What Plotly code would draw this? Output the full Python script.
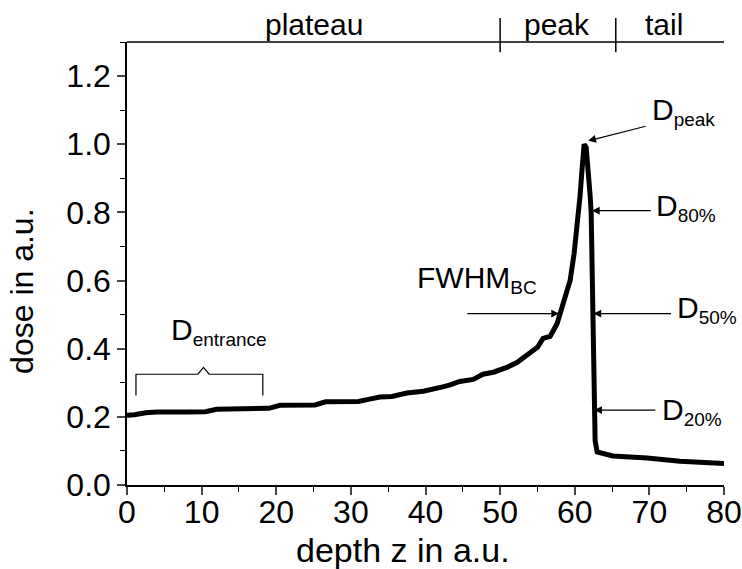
import plotly.graph_objects as go

depth = [0, 1.0, 2.5, 4, 8, 10.5, 12.0, 17, 19.0, 20.5, 25.2, 26.6, 31.0, 32.5, 33.9, 35.5, 37.5, 39.7, 41.0,
         42.3, 43.2, 44.6, 46.4, 47.7, 49.1, 50.9, 52.3, 53.6, 55.0, 55.76, 56.7, 57.64, 58.04, 58.71, 59.38,
         59.92, 60.32, 60.72, 60.99, 61.26, 61.53, 61.80, 62.06, 62.20, 62.33, 62.47, 62.60, 62.73, 63.0,
         65.1, 69.7, 74.1, 80]
dose = [0.205, 0.206, 0.212, 0.214, 0.214, 0.215, 0.222, 0.223, 0.225, 0.234, 0.235, 0.244, 0.245, 0.252, 0.258,
        0.260, 0.270, 0.275, 0.280, 0.288, 0.293, 0.304, 0.310, 0.325, 0.331, 0.345, 0.360, 0.380, 0.404, 0.430,
        0.436, 0.474, 0.503, 0.540, 0.600, 0.680, 0.760, 0.850, 0.930, 1.0, 0.99, 0.93, 0.85, 0.80, 0.65, 0.50,
        0.22, 0.13, 0.097, 0.085, 0.079, 0.070, 0.063]

x_ticks = [0, 10, 20, 30, 40, 50, 60, 70, 80]
y_ticks = [0.0, 0.2, 0.4, 0.6, 0.8, 1.0, 1.2]
regions = ["plateau", "peak", "tail"]
region_bounds = [0, 50, 65.5, 80]
region_label_x = [25, 57.6, 72]

FONT = "Liberation Sans"

fig = go.Figure()
fig.add_trace(go.Scatter(x=depth, y=dose, mode="lines",
                         line=dict(color="black", width=5), showlegend=False, hoverinfo="skip"))

fig.update_layout(
    width=742, height=569, margin=dict(l=127, r=18, t=42, b=84),
    paper_bgcolor="white", plot_bgcolor="white",
    font=dict(family=FONT, color="black", size=30),
    showlegend=False,
)
fig.update_xaxes(range=[0, 80], tickvals=x_ticks, ticks="outside", ticklen=8, tickwidth=1.5,
                 showline=True, linecolor="black", linewidth=1.5, showgrid=False, zeroline=False,
                 automargin=False, ticklabelstandoff=-10,
                 tickfont=dict(family=FONT, size=32),
                 minor=dict(dtick=5, ticks="outside", ticklen=5, tickcolor="black", tickwidth=1.2))
fig.update_yaxes(range=[0, 1.3], tickvals=y_ticks, tickformat=".1f", ticks="outside", ticklen=8, tickwidth=1.5,
                 showline=True, linecolor="black", linewidth=1.5, showgrid=False, zeroline=False,
                 automargin=False,
                 tickfont=dict(family=FONT, size=32),
                 minor=dict(dtick=0.1, ticks="outside", ticklen=5, tickcolor="black", tickwidth=1.2))

# axis titles
fig.add_annotation(x=0.463, y=-0.147, xref="paper", yref="paper", text="depth z in a.u.", showarrow=False,
                   xanchor="center", yanchor="middle", font=dict(family=FONT, size=34))
fig.add_annotation(x=-0.176, y=0.438, xref="paper", yref="paper", text="dose in a.u.", showarrow=False,
                   textangle=-90, xanchor="center", yanchor="middle", font=dict(family=FONT, size=32))

# top line and region separators
fig.add_shape(type="line", xref="x", yref="paper", x0=0, x1=80, y0=1, y1=1, line=dict(color="black", width=1.5))
for b in region_bounds[1:3]:
    fig.add_shape(type="line", xref="x", yref="paper", x0=b, x1=b, y0=0.977, y1=1.054,
                  line=dict(color="black", width=1.5))
for name, lx in zip(regions, region_label_x):
    fig.add_annotation(x=lx, y=1.0, xref="x", yref="paper",
                       text=name, showarrow=False, yanchor="bottom", yshift=-1,
                       font=dict(family=FONT, size=30))

# arrow annotations
def arrow(xt, yt, ax, ay):
    fig.add_annotation(x=xt, y=yt, ax=ax, ay=ay, xref="x", yref="y", axref="x", ayref="y",
                       text="", showarrow=True, arrowhead=2, arrowsize=1.3, arrowwidth=1.2,
                       arrowcolor="black")

def label(main, sub, lx, ly):
    text = main + '<sub><span style="font-size:19px">' + sub + '</span></sub>'
    fig.add_annotation(x=lx, y=ly, xref="x", yref="y", text=text, showarrow=False,
                       xanchor="left", yanchor="middle", font=dict(family=FONT, size=30))

arrow(61.8, 1.01, 69.7, 1.054)
label("D", "peak", 70.05, 1.095)
arrow(62.3, 0.805, 70.4, 0.805)
label("D", "80%", 70.6, 0.815)
arrow(57.9, 0.503, 45.4, 0.503)
label("FWHM", "BC", 38.6, 0.603)
arrow(62.5, 0.503, 73.1, 0.503)
label("D", "50%", 73.4, 0.515)
arrow(62.6, 0.22, 71.0, 0.22)
label("D", "20%", 71.4, 0.215)

# entrance bracket
bx = [1.2, 1.2, 9.5, 10.25, 11.0, 18.2, 18.2]
by = [0.263, 0.325, 0.325, 0.345, 0.325, 0.325, 0.263]
fig.add_trace(go.Scatter(x=bx, y=by, mode="lines", line=dict(color="black", width=1.2),
                         showlegend=False, hoverinfo="skip"))
label("D", "entrance", 5.6, 0.45)

fig.write_html("out.html")
